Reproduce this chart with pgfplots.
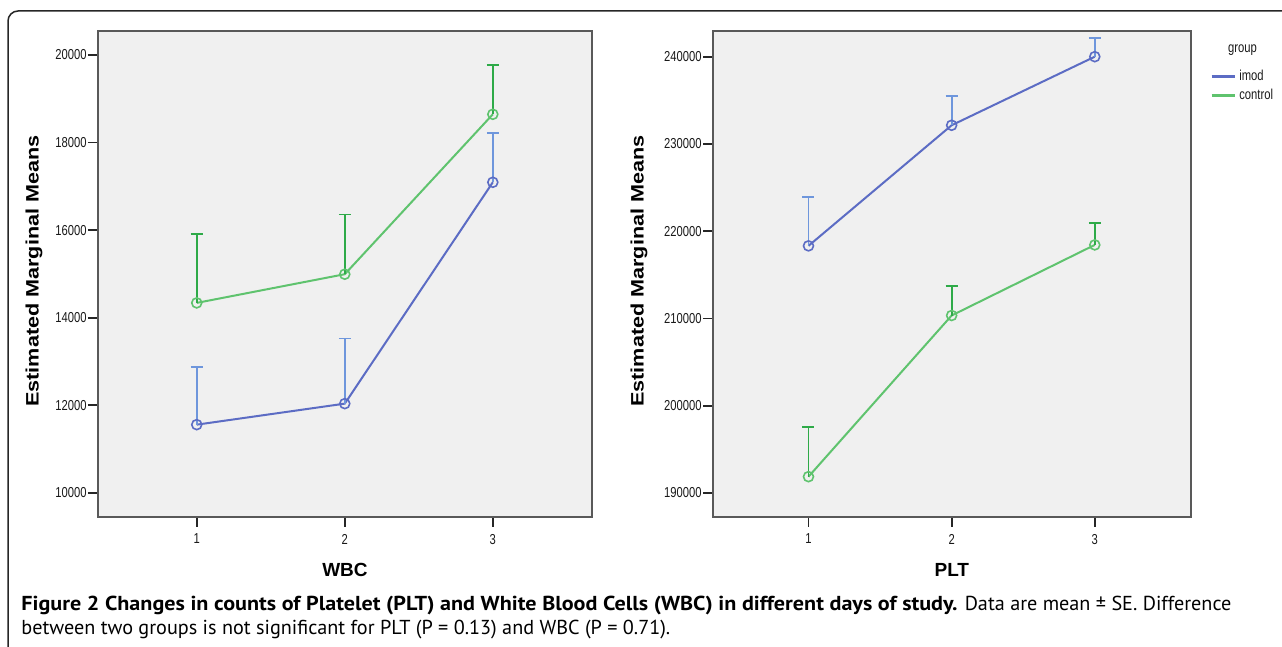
\documentclass[border=0pt]{standalone}
\usepackage{pgfplots}
\pgfplotsset{compat=1.18}
\usepackage{pgfplotstable}
\usepackage{fontspec}
\setmainfont{Liberation Sans}
\newfontfamily\tickfont[FakeStretch=0.78]{Liberation Sans}
\newfontfamily\ylabfont[FakeStretch=1.2]{Liberation Sans}
\newfontfamily\capfont{PT Sans}
\newfontfamily\capbold[FakeStretch=1.095]{PT Sans Bold}

\definecolor{bggray}{HTML}{F0F0F0}
\definecolor{imodline}{HTML}{5C6CC4}
\definecolor{imoderr}{HTML}{6E96DC}
\definecolor{ctrlline}{HTML}{5FC36E}
\definecolor{ctrlerr}{HTML}{2EAA48}

% day, mean, upper SE
\pgfplotstableread{
day mean err
1 11560 1315
2 12040 1485
3 17094 1126
}\wbcimod
\pgfplotstableread{
day mean err
1 14340 1580
2 14995 1365
3 18646 1126
}\wbcctrl
\pgfplotstableread{
day mean err
1 218320 5580
2 232140 3390
3 240000 2180
}\pltimod
\pgfplotstableread{
day mean err
1 191870 5730
2 210340 3400
3 218430 2520
}\pltctrl

\pgfplotsset{
  spss/.style={
    scale only axis,
    anchor=south west,
    height=243pt,
    xmin=0.333, xmax=3.67,
    xtick={1,2,3},
    tick pos=left,
    tick align=outside,
    major tick length=5pt,
    axis background/.style={fill=bggray},
    axis line style={draw=black!65, line width=0.8pt},
    tick style={black!85, line width=0.9pt},
    /pgf/number format/assume math mode=true,
    /pgf/number format/fixed,
    /pgf/number format/set thousands separator={},
    scaled y ticks=false,
    tick label style={font=\tickfont\fontsize{7.2}{8}\selectfont, text=black!90},
    yticklabel style={inner xsep=0.5pt},
    label style={font=\bfseries\fontsize{9.5}{11}\selectfont},
    ylabel style={font=\ylabfont\bfseries\fontsize{9}{11}\selectfont},
    xlabel style={at={(axis description cs:0.5,-0.109)}, anchor=center},
    ylabel={Estimated Marginal Means},
    error bars/y dir=plus,
    error bars/y explicit,
  },
  imod/.style={imodline, line width=1pt, mark=o, mark size=2.5pt,
    mark options={line width=0.8pt},
    error bars/error bar style={imoderr, line width=0.9pt},
    error bars/error mark options={imoderr, line width=0.9pt, mark size=3pt, rotate=90}},
  ctrl/.style={ctrlline, line width=1pt, mark=o, mark size=2.5pt,
    mark options={line width=0.8pt},
    error bars/error bar style={ctrlerr, line width=0.9pt},
    error bars/error mark options={ctrlerr, line width=0.9pt, mark size=3pt, rotate=90}},
}

\begin{document}
\begin{tikzpicture}
\begin{axis}[spss, at={(49pt,65pt)}, width=247pt,
  ymin=9452, ymax=20548, ytick={10000,12000,...,20000},
  xlabel={WBC},
  ylabel style={at={(axis description cs:-0.1296,0.506)}, anchor=center}]
\addplot[imod] table[x=day, y=mean, y error=err] {\wbcimod};
\addplot[ctrl] table[x=day, y=mean, y error=err] {\wbcctrl};
\end{axis}

\begin{axis}[spss, at={(356.5pt,65pt)}, width=238.85pt,
  ymin=187250, ymax=242945, ytick={190000,200000,...,240000},
  xlabel={PLT},
  ylabel style={at={(axis description cs:-0.155,0.506)}, anchor=center},
  legend style={at={(axis description cs:1.04,0.927)}, anchor=north west,
    draw=none, fill=none, inner sep=0pt,
    nodes={inner sep=1.75pt, text height=5pt, text depth=1pt,
      font=\tickfont\fontsize{7.2}{8}\selectfont, text=black!90}},
  legend cell align=left,
  legend image code/.code={\draw[#1, line width=1.3pt] (0pt,0pt) -- (11.5pt,0pt);}]
\addplot[imod] table[x=day, y=mean, y error=err] {\pltimod};
\addlegendentry{imod}
\addplot[ctrl] table[x=day, y=mean, y error=err] {\pltctrl};
\addlegendentry{control}
\end{axis}

\node[font=\tickfont\fontsize{7.2}{8}\selectfont, text=black!90, anchor=center]
  at (621.3pt,298.5pt) {group};

\draw[black!85, line width=0.75pt, rounded corners=5pt]
  (4pt,-2pt) -- (4pt,318pt) -- (650pt,318pt);

\node[anchor=base west, inner sep=0pt, font=\capfont\fontsize{10.1}{12}\selectfont]
  at (10.5pt,18pt) {{\capbold Figure 2 Changes in counts of Platelet (PLT) and White Blood Cells (WBC) in different days of study.} Data are mean ± SE. Difference};
\node[anchor=base west, inner sep=0pt, font=\capfont\fontsize{10.1}{12}\selectfont]
  at (10.5pt,6pt) {between two groups is not significant for PLT (P = 0.13) and WBC (P = 0.71).};

\pgfresetboundingbox
\useasboundingbox (0pt,0pt) rectangle (641pt,323.5pt);
\end{tikzpicture}
\end{document}
